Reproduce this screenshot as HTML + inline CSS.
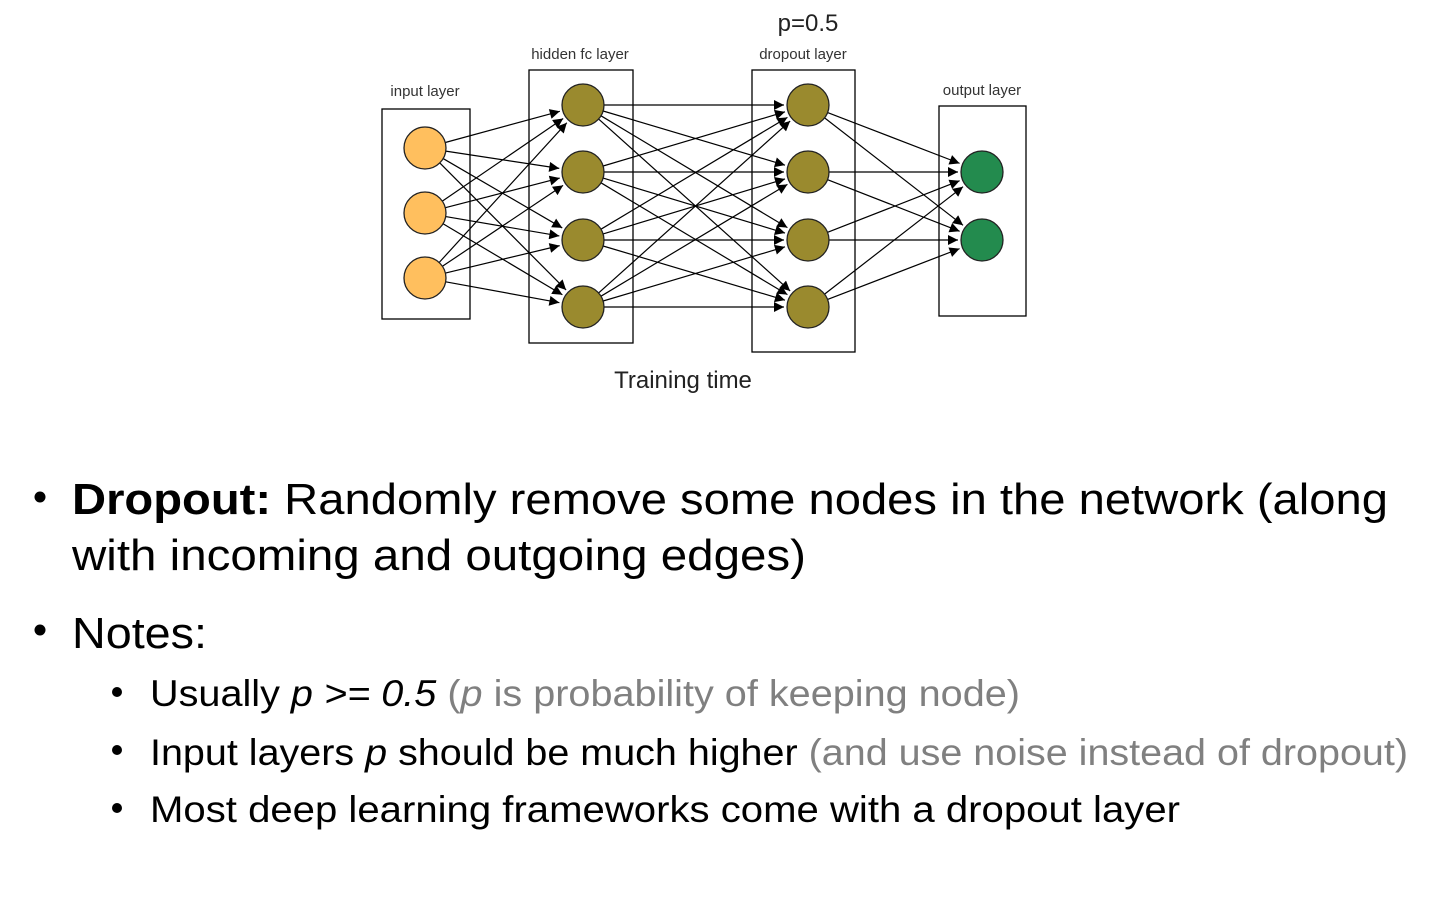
<!DOCTYPE html>
<html><head><meta charset="utf-8"><style>
html,body{margin:0;padding:0;background:#fff;width:1440px;height:900px;overflow:hidden}
svg{display:block}
</style></head><body>
<svg id="s" width="1440" height="900" xmlns="http://www.w3.org/2000/svg" font-family="Liberation Sans, sans-serif">
<defs><marker id="a" viewBox="0 0 10 10" refX="10" refY="5" markerWidth="12" markerHeight="10" markerUnits="userSpaceOnUse" orient="auto"><path d="M0,0L10,5L0,10z" fill="#000"/></marker></defs>
<g fill="none" stroke="#000" stroke-width="1.3">
<rect x="382" y="109" width="88" height="210"/>
<rect x="529" y="70" width="104" height="273"/>
<rect x="752" y="70" width="103" height="282"/>
<rect x="939" y="106" width="87" height="210"/>
</g>
<g id="edges" stroke="#000" stroke-width="1.2"></g>
<g id="nodes" stroke="#222" stroke-width="1.3"></g>
<g font-size="15" fill="#333" text-anchor="middle">
<text x="425" y="96">input layer</text>
<text x="580" y="59">hidden fc layer</text>
<text x="803" y="59">dropout layer</text>
<text x="982" y="95">output layer</text>
</g>
<text x="808" y="31" font-size="24" fill="#222" text-anchor="middle">p=0.5</text>
<text x="683" y="388" font-size="24" fill="#222" text-anchor="middle">Training  time</text>
<g fill="#000">
<circle cx="40" cy="497" r="5.5"/><circle cx="40" cy="630" r="5.5"/>
<circle cx="117" cy="692" r="5"/><circle cx="117" cy="750" r="5"/><circle cx="117" cy="808" r="5"/>
</g>
<g font-size="44" fill="#000">
<text x="72" y="514" textLength="1316" lengthAdjust="spacingAndGlyphs"><tspan font-weight="bold">Dropout:</tspan> Randomly remove some nodes in the network (along</text>
<text x="72" y="570" textLength="734" lengthAdjust="spacingAndGlyphs">with incoming and outgoing edges)</text>
<text x="72" y="648" textLength="135" lengthAdjust="spacingAndGlyphs">Notes:</text>
</g>
<g font-size="37" fill="#000">
<text x="150" y="706" textLength="870" lengthAdjust="spacingAndGlyphs">Usually <tspan font-style="italic">p &gt;= 0.5</tspan>  <tspan fill="#808080">(<tspan font-style="italic">p</tspan> is probability of keeping node)</tspan></text>
<text x="150" y="765" textLength="1258" lengthAdjust="spacingAndGlyphs">Input layers <tspan font-style="italic">p</tspan> should be much higher <tspan fill="#808080">(and use noise instead of dropout)</tspan></text>
<text x="150" y="822" textLength="1030" lengthAdjust="spacingAndGlyphs">Most deep learning frameworks come with a dropout layer</text>
</g>
</svg>
<script>
var L=[[425,[148,213,278],"#ffbf5e"],[583,[105,172,240,307],"#9a8a2e"],[808,[105,172,240,307],"#9a8a2e"],[982,[172,240],"#238b4e"]];
var r=21,ns="http://www.w3.org/2000/svg",E=document.getElementById("edges"),N=document.getElementById("nodes");
for(var i=0;i<3;i++){var A=L[i],B=L[i+1];A[1].forEach(function(y1){B[1].forEach(function(y2){
var dx=B[0]-A[0],dy=y2-y1,d=Math.sqrt(dx*dx+dy*dy),ux=dx/d,uy=dy/d;
var l=document.createElementNS(ns,"line");l.setAttribute("x1",A[0]+ux*r);l.setAttribute("y1",y1+uy*r);
l.setAttribute("x2",B[0]-ux*(r+3));l.setAttribute("y2",y2-uy*(r+3));l.setAttribute("marker-end","url(#a)");E.appendChild(l);});});}
L.forEach(function(a){a[1].forEach(function(y){var c=document.createElementNS(ns,"circle");c.setAttribute("cx",a[0]);c.setAttribute("cy",y);c.setAttribute("r",r);c.setAttribute("fill",a[2]);N.appendChild(c);});});
</script>
</body></html>
